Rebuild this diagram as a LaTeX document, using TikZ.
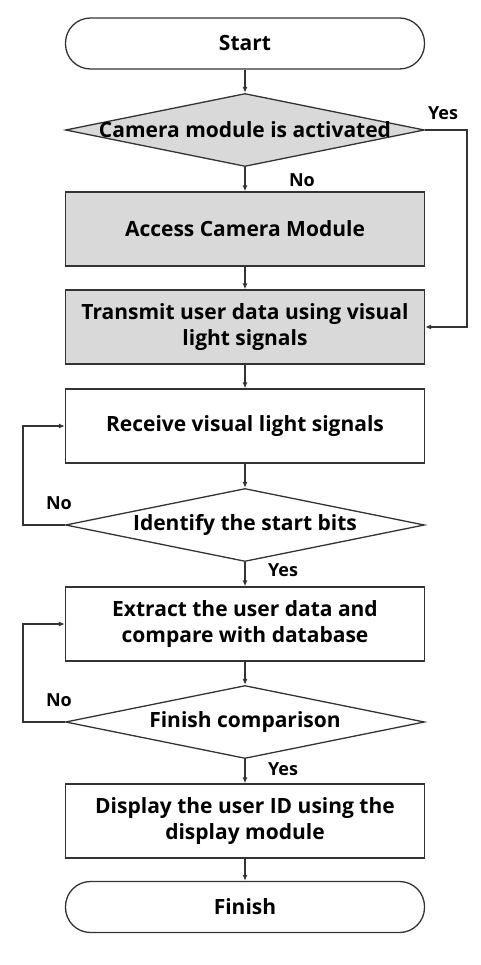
\documentclass[tikz,border=0pt]{standalone}
\usepackage{fontspec}
\setmainfont{Open Sans}
\usetikzlibrary{shapes.geometric,arrows.meta}
\definecolor{boxgray}{HTML}{D9D9D9}
\definecolor{linecol}{HTML}{333333}
\begin{document}
\begin{tikzpicture}[x=1pt,y=-1pt,
  base/.style={draw=linecol,line width=1.3pt,inner sep=0pt,align=center,
    font=\fontsize{21}{26}\selectfont\bfseries,text=black},
  term/.style={base,rectangle,rounded corners=25pt,minimum width=359pt,minimum height=51pt},
  proc/.style={base,rectangle,minimum width=359pt,minimum height=74pt},
  dia/.style={draw=linecol,line width=1.3pt,diamond,inner sep=0pt,minimum width=359pt,minimum height=73pt},
  txt/.style={inner sep=0pt,align=center,font=\fontsize{21}{26}\selectfont\bfseries},
  lab/.style={inner sep=0pt,font=\fontsize{18}{20}\selectfont\bfseries},
  arr/.style={draw=linecol,line width=1.2pt,-{Latex[length=6pt,width=5pt]}}
]
\useasboundingbox (0,0) rectangle (481,965);
\node[term] (start) at (245,43.5) {Start};
\node[dia,fill=boxgray] (d1) at (245,130) {};
\node[txt] (t1) at (d1) {Camera module is activated};
\node[proc,fill=boxgray] (access) at (245,229) {Access Camera Module};
\node[proc,fill=boxgray] (trans) at (245,327) {Transmit user data using visual\\light signals};
\node[proc] (recv) at (245,426) {Receive visual light signals};
\node[dia] (d2) at (245,525) {};
\node[txt] (t2) at (d2) {Identify the start bits};
\node[proc] (extr) at (245,624) {Extract the user data and\\compare with database};
\node[dia] (d3) at (245,722) {};
\node[txt] (t3) at (d3) {Finish comparison};
\node[proc] (disp) at (245,821) {Display the user ID using the\\display module};
\node[term] (fin) at (245,907) {Finish};

\coordinate (y1) at (467,130);
\coordinate (y2) at (467,327);
\coordinate (n1) at (23,525);
\coordinate (n2) at (23,426);
\coordinate (n3) at (23,722);
\coordinate (n4) at (23,624);

\draw[arr] (start) -- (d1);
\draw[arr] (d1) -- (access);
\draw[arr] (access) -- (trans);
\draw[arr] (trans) -- (recv);
\draw[arr] (recv) -- (d2);
\draw[arr] (d2) -- (extr);
\draw[arr] (extr) -- (d3);
\draw[arr] (d3) -- (disp);
\draw[arr] (disp) -- (fin);
\draw[arr] (d1.east) -- (y1) -- (y2) -- (trans.east);
\draw[arr] (d2.west) -- (n1) -- (n2) -- (recv.west);
\draw[arr] (d3.west) -- (n3) -- (n4) -- (extr.west);

\node[lab] (l1) at (443,113) {Yes};
\node[lab] (l2) at (302,180) {No};
\node[lab] (l3) at (59,503) {No};
\node[lab] (l4) at (283,570) {Yes};
\node[lab] (l5) at (59,700) {No};
\node[lab] (l6) at (283,769) {Yes};
\end{tikzpicture}
\end{document}
